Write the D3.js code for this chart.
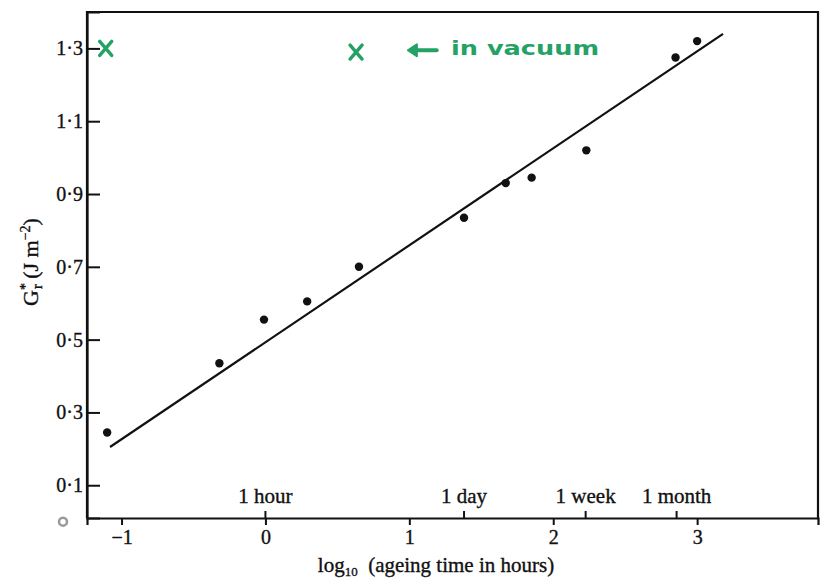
<!DOCTYPE html>
<html>
<head>
<meta charset="utf-8">
<script src="https://cdn.jsdelivr.net/npm/d3@7"></script>
<style>
  body { margin: 0; background: #fff; }
  text { font-family: "Liberation Serif", "DejaVu Serif", serif; fill: #111; }
  .serif { stroke: #111; stroke-width: 0.35px; }
</style>
</head>
<body>
<div id="chart"></div>
<script>
// measured points: log10 of ageing time (hours) vs G*r (J m^-2)
var ageLog = [-1.10, -0.32, -0.01, 0.29, 0.65, 1.38, 1.67, 1.85, 2.23, 2.85, 3.00];
var grValues = [0.245, 0.435, 0.555, 0.605, 0.70, 0.835, 0.93, 0.945, 1.02, 1.275, 1.32];

// hand-marked points "in vacuum"
var vacuumLog = [-1.11, 0.63];
var vacuumValues = [1.30, 1.29];

// fitted straight line (end points)
var fitLog = [-1.08, 3.18];
var fitValues = [0.205, 1.34];

// axis ticks
var xTicks = [-1, 0, 1, 2, 3];
var yTicks = [0.1, 0.3, 0.5, 0.7, 0.9, 1.1, 1.3];
var timeLabels = ['1 hour', '1 day', '1 week', '1 month'];
var timeHours = [1, 24, 168, 720];

var svgWidth = 821, svgHeight = 582;
var margin = {top: 12, right: 3, bottom: 64, left: 87};
var width = svgWidth - margin.left - margin.right;
var height = svgHeight - margin.top - margin.bottom;
var green = '#24a266';

var svg = d3.select('#chart').append('svg')
    .attr('width', svgWidth).attr('height', svgHeight);

var g = svg.append('g')
    .attr('transform', 'translate(' + margin.left + ' ' + margin.top + ')');

var x = d3.scaleLinear().domain([-1.24, 3.84]).range([0, width]);
var y = d3.scaleLinear().domain([0.01, 1.4]).range([height, 0]);

// frame: top and right edges
g.append('path')
    .attr('d', 'M0,' + height + 'V0H' + width + 'V' + height)
    .attr('fill', 'none').attr('stroke', '#111').attr('stroke-width', 2.2);

// y axis: inward ticks, "1·3" style labels
var fmt = function(d) { return d3.format('.1f')(d).replace('.', '\u00b7'); };
var yAxis = g.append('g')
    .call(d3.axisLeft(y).tickValues(yTicks).tickSize(-13).tickPadding(4).tickFormat(fmt));
yAxis.select('.domain').attr('stroke-width', 2.2).attr('stroke', '#111');
yAxis.selectAll('.tick line').attr('stroke-width', 2).attr('stroke', '#111');
yAxis.selectAll('text').attr('class', 'serif').attr('font-size', 20)
    .attr('font-family', '"Liberation Serif", serif').attr('fill', '#111');

// faint zero mark at the origin
g.append('circle')
    .attr('cx', -24).attr('cy', y(0))
    .attr('r', 4).attr('fill', 'none').attr('stroke', '#999').attr('stroke-width', 2.5);

// x axis: outward numbered ticks
var xAxis = g.append('g')
    .attr('transform', 'translate(0 ' + height + ')')
    .call(d3.axisBottom(x).tickValues(xTicks).tickSize(7).tickPadding(5)
        .tickFormat(function(d) { return d < 0 ? '\u2212' + Math.abs(d) : d; }));
xAxis.select('.domain').attr('stroke-width', 2.2).attr('stroke', '#111');
xAxis.selectAll('.tick line').attr('stroke-width', 2).attr('stroke', '#111');
xAxis.selectAll('text').attr('class', 'serif').attr('font-size', 20)
    .attr('font-family', '"Liberation Serif", serif').attr('fill', '#111');

// time markers above the axis
var marks = g.append('g').selectAll('g')
    .data(timeHours)
    .enter().append('g')
    .attr('transform', function(d) { return 'translate(' + x(Math.log10(d)) + ' ' + height + ')'; });
marks.append('line')
    .attr('y1', 0).attr('y2', -7)
    .attr('stroke', '#111').attr('stroke-width', 2);
marks.append('text')
    .attr('class', 'serif')
    .attr('y', -15)
    .attr('text-anchor', 'middle')
    .attr('font-size', 21)
    .text(function(d, i) { return timeLabels[i]; });

// fitted line
g.append('line')
    .attr('x1', x(fitLog[0])).attr('y1', y(fitValues[0]))
    .attr('x2', x(fitLog[1])).attr('y2', y(fitValues[1]))
    .attr('stroke', '#111').attr('stroke-width', 2.2);

// data points
g.selectAll('.dot')
    .data(ageLog)
    .enter().append('circle')
    .attr('class', 'dot')
    .attr('cx', function(d) { return x(d); })
    .attr('cy', function(d, i) { return y(grValues[i]); })
    .attr('r', 4.2)
    .attr('fill', '#111');

// green crosses
var cross = g.selectAll('.cross')
    .data(vacuumLog)
    .enter().append('path')
    .attr('class', 'cross')
    .attr('transform', function(d, i) { return 'translate(' + x(d) + ' ' + y(vacuumValues[i]) + ')'; })
    .attr('d', 'M-6,-7L6,7M6,-7L-6,7')
    .attr('stroke', green).attr('stroke-width', 3.4).attr('stroke-linecap', 'round');

// "<- in vacuum" note
var noteY = y(1.295);
g.append('path')
    .attr('d', 'M' + x(1.19) + ',' + noteY + 'H' + x(1.02))
    .attr('stroke', green).attr('stroke-width', 4).attr('stroke-linecap', 'round');
g.append('path')
    .attr('d', 'M' + (x(0.99)) + ',' + noteY + 'l9,-6l0,12z')
    .attr('fill', green).attr('stroke', green).attr('stroke-width', 2).attr('stroke-linejoin', 'round');
g.append('text')
    .attr('x', x(1.29)).attr('y', noteY + 5)
    .attr('font-size', 19)
    .attr('textLength', 148).attr('lengthAdjust', 'spacingAndGlyphs')
    .style('font-family', '"DejaVu Sans", sans-serif')
    .style('font-weight', 'bold')
    .style('fill', green)
    .text('in vacuum');

// axis titles
var xt = svg.append('text')
    .attr('class', 'serif')
    .attr('x', 436).attr('y', 572)
    .attr('text-anchor', 'middle')
    .attr('font-size', 21);
xt.append('tspan').text('log');
xt.append('tspan').attr('font-size', 13).attr('dy', 4).text('10');
xt.append('tspan').attr('dy', -4).text('\u2002(ageing time in hours)');

var yt = svg.append('text')
    .attr('class', 'serif')
    .attr('transform', 'translate(38 262) rotate(-90)')
    .attr('text-anchor', 'middle')
    .attr('font-size', 22);
yt.append('tspan').text('G');
yt.append('tspan').attr('font-size', 14).attr('dy', -8).text('*');
yt.append('tspan').attr('font-size', 14).attr('dx', -6).attr('dy', 12).text('r');
yt.append('tspan').attr('dy', -4).text(' (J m');
yt.append('tspan').attr('font-size', 14).attr('dy', -8).text('\u22122');
yt.append('tspan').attr('dy', 8).text(')');
</script>
</body>
</html>
